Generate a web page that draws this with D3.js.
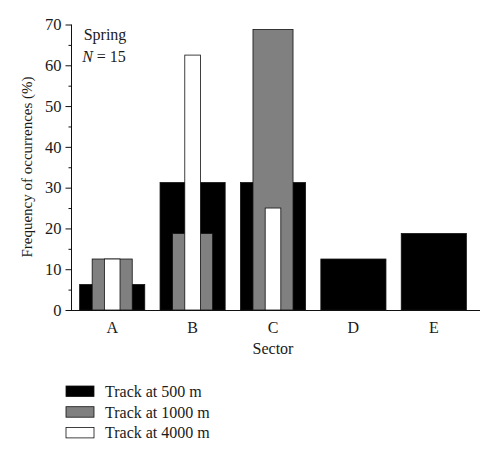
<!DOCTYPE html>
<html>
<head>
<meta charset="utf-8">
<script src="https://cdn.jsdelivr.net/npm/d3@7"></script>
<style>
body{margin:0;background:#fff;}
text{font-family:"Liberation Serif","Times New Roman",serif;fill:#1a1a1a;}
</style>
</head>
<body>
<div id="chart"></div>
<script>
var width = 500,
height = 457;

// data
var sectors = ["A","B","C","D","E"];
var track500 = [6.25, 31.25, 31.25, 12.5, 18.75];
var track1000 = [12.5, 18.75, 68.75, 0, 0];
var track4000 = [12.5, 62.5, 25, 0, 0];
var yTicks = [0,10,20,30,40,50,60,70];
var minorTicks = [5,15,25,35,45,55,65];
var legendLabels = ["Track at 500 m","Track at 1000 m","Track at 4000 m"];
var colours = ["#000000","#808080","#ffffff"];

var series = [track500, track1000, track4000];
var widthRatio = [1, 0.615, 0.24];

var svg = d3.select("#chart").append("svg")
	.attr("width",width)
	.attr("height",height);

var x = d3.scaleBand()
	.domain(sectors)
	.range([72,474])
	.paddingInner(0.19)
	.paddingOuter(0.095);

var y = d3.scaleLinear()
	.domain([0,70])
	.range([310,24.5]);

// bars, widest first so the narrow ones sit in front
series.forEach(function(vals,s){
	var w = x.bandwidth()*widthRatio[s];
	svg.append("g").selectAll("rect")
		.data(vals.map(function(v,i){ return {k:sectors[i], v:v}; }).filter(function(d){ return d.v>0; }))
		.enter().append("rect")
		.attr("x",function(d){ return x(d.k)+(x.bandwidth()-w)/2; })
		.attr("y",function(d){ return y(d.v); })
		.attr("width",w)
		.attr("height",function(d){ return y(0)-y(d.v); })
		.attr("fill",colours[s])
		.attr("stroke","#111")
		.attr("stroke-width",0.8);
});

// y axis
var yAxis = d3.axisLeft(y).tickValues(yTicks).tickSize(6).tickPadding(4);
var gy = svg.append("g").attr("transform","translate(71.5,0)").call(yAxis);
gy.select(".domain").attr("d","M0,"+y(70)+"V"+y(0));
gy.selectAll("text").style("font-family","Liberation Serif").style("font-size","16.5px").attr("fill","#1a1a1a");
gy.selectAll("line").attr("stroke","#111");
gy.select(".domain").attr("stroke","#111");
gy.selectAll(".minor").data(minorTicks).enter().append("line")
	.attr("class","minor")
	.attr("x1",-3).attr("x2",0)
	.attr("y1",function(d){ return y(d)+0.5; })
	.attr("y2",function(d){ return y(d)+0.5; })
	.attr("stroke","#111");

// x axis
svg.append("line")
	.attr("x1",67).attr("x2",480)
	.attr("y1",y(0)+0.5).attr("y2",y(0)+0.5)
	.attr("stroke","#111");
svg.append("g").selectAll("text")
	.data(sectors)
	.enter().append("text")
	.attr("x",function(d){ return x(d)+x.bandwidth()/2; })
	.attr("y",333)
	.attr("text-anchor","middle")
	.style("font-size","16px")
	.text(function(d){ return d; });

svg.append("text")
	.attr("x",273).attr("y",354)
	.attr("text-anchor","middle")
	.style("font-size","16px")
	.text("Sector");

svg.append("text")
	.attr("transform","translate(32,167) rotate(-90)")
	.attr("text-anchor","middle")
	.style("font-size","15px")
	.text("Frequency of occurrences (%)");

svg.append("text")
	.attr("x",105).attr("y",40)
	.attr("text-anchor","middle")
	.style("font-size","16px")
	.text("Spring");
var nt = svg.append("text")
	.attr("x",104).attr("y",62)
	.attr("text-anchor","middle")
	.style("font-size","16px");
nt.append("tspan").style("font-style","italic").text("N");
nt.append("tspan").text(" = 15");

// legend
var leg = svg.append("g").selectAll("g")
	.data(legendLabels)
	.enter().append("g")
	.attr("transform",function(d,i){ return "translate(66,"+(386+i*20.7)+")"; });
leg.append("rect")
	.attr("width",28).attr("height",10.5)
	.attr("fill",function(d,i){ return colours[i]; })
	.attr("stroke","#111")
	.attr("stroke-width",0.8);
leg.append("text")
	.attr("x",39).attr("y",11)
	.style("font-size","16px")
	.text(function(d){ return d; });
</script>
</body>
</html>
